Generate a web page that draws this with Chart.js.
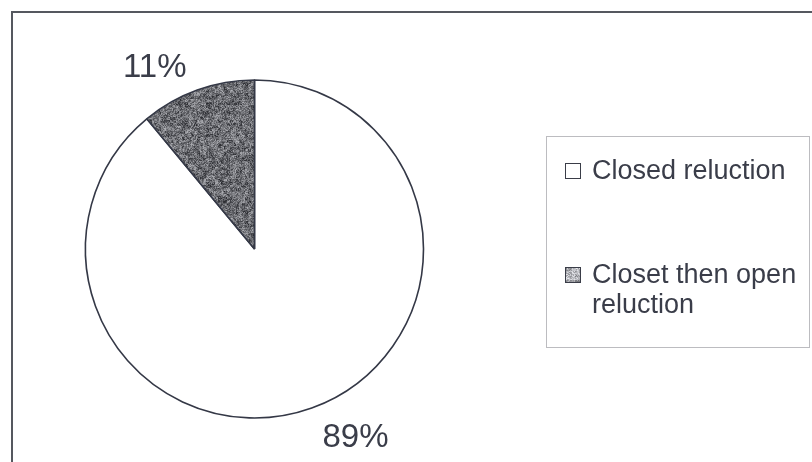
<!DOCTYPE html>
<html>
<head>
<meta charset="utf-8">
<script src="https://cdn.jsdelivr.net/npm/chart.js@4.4.1/dist/chart.umd.min.js"></script>
<style>
  html, body { margin: 0; padding: 0; background: #fff; }
  body { width: 812px; height: 462px; position: relative; overflow: hidden;
         font-family: "Liberation Sans", Arial, sans-serif; color: #3a3d49; }
  #frame { position: absolute; left: 11px; top: 11px; width: 900px; height: 600px;
           border-left: 2px solid #55585f; border-top: 2px solid #55585f; }
  #wrap { position: absolute; left: 0; top: 0; width: 812px; height: 462px; }
  #legend { position: absolute; left: 546px; top: 136px; width: 264px; height: 212px;
            box-sizing: border-box; border: 1px solid #bcbcc0; padding: 18px 0 0 18px; }
  #legend ul { list-style: none; margin: 0; padding: 0; }
  #legend li { position: relative; font-size: 27px; line-height: 30px; padding-left: 27px;
               width: 214px; }
  #legend li + li { margin-top: 74px; }
  #legend .box { position: absolute; left: 0; top: 8px; width: 16px; height: 16px;
                 box-sizing: border-box; border: 1.5px solid #3a3d48; }
</style>
</head>
<body>
<div id="frame"></div>
<div id="wrap"><canvas id="pie"></canvas></div>
<div id="legend"></div>
<script>
// Shares of the two closure groups (percent)
const categories = ["Closed reluction", "Closet then open reluction"];
const shares = [89, 11];
const percentLabels = ["89%", "11%"];

// Grainy grey texture used for the smaller slice
function hash(x, y) {
  const s = Math.sin(x * 12.9898 + y * 78.233) * 43758.5453;
  return s - Math.floor(s);
}
function makeTexture(size, base, spread) {
  const c = document.createElement("canvas");
  c.width = c.height = size;
  const g = c.getContext("2d");
  const img = g.createImageData(size, size);
  for (let y = 0; y < size; y++) {
    for (let x = 0; x < size; x++) {
      const fine = hash(x, y);
      const coarse = hash(Math.floor(x / 3) + 17, Math.floor(y / 3) + 5);
      const v = Math.max(0, Math.min(255, base + spread * (0.6 * fine + 0.4 * coarse)));
      const i = (y * size + x) * 4;
      img.data[i] = v - 4; img.data[i + 1] = v - 3; img.data[i + 2] = v + 2; img.data[i + 3] = 255;
    }
  }
  g.putImageData(img, 0, 0);
  return c;
}
const texture = makeTexture(128, 42, 140);
const ctx = document.getElementById("pie").getContext("2d");
const grain = ctx.createPattern(texture, "repeat");
const sliceColors = ["#ffffff", grain];

// Percent labels placed just outside each slice's outer edge
const outsideLabels = {
  id: "outsideLabels",
  afterDatasetsDraw(chart) {
    const meta = chart.getDatasetMeta(0);
    const c = chart.ctx;
    c.save();
    c.font = '33px "Liberation Sans", Arial, sans-serif';
    c.fillStyle = "#3a3d49";
    meta.data.forEach((arc, i) => {
      const p = arc.getProps(["x", "y", "startAngle", "endAngle", "outerRadius"], true);
      const mid = (p.startAngle + p.endAngle) / 2;
      const r = p.outerRadius + 14;
      const dx = Math.cos(mid), dy = Math.sin(mid);
      const ax = p.x + dx * r, ay = p.y + dy * r;
      c.textAlign = dx < 0 ? "right" : "left";
      c.textBaseline = dy < 0 ? "alphabetic" : "top";
      c.fillText(percentLabels[i], ax + (dx < 0 ? -6 : 6), ay);
    });
    c.restore();
  }
};

// Legend drawn as HTML from the chart's own legend items
const htmlLegend = {
  id: "htmlLegend",
  afterUpdate(chart) {
    const host = document.getElementById("legend");
    host.innerHTML = "";
    const ul = document.createElement("ul");
    const items = chart.options.plugins.legend.labels.generateLabels(chart);
    items.forEach((item, i) => {
      const li = document.createElement("li");
      const box = document.createElement("span");
      box.className = "box";
      if (i === 1) {
        const small = makeTexture(16, 110, 130);
        box.style.backgroundImage = "url(" + small.toDataURL() + ")";
      } else {
        box.style.background = "#ffffff";
      }
      li.appendChild(box);
      li.appendChild(document.createTextNode(item.text));
      ul.appendChild(li);
    });
    host.appendChild(ul);
  }
};

new Chart(ctx, {
  type: "pie",
  data: {
    labels: categories,
    datasets: [{
      data: shares,
      backgroundColor: sliceColors,
      borderColor: "#343846",
      borderWidth: 1.6,
      radius: 169
    }]
  },
  options: {
    responsive: true,
    maintainAspectRatio: false,
    animation: false,
    layout: { padding: { left: 84.5, right: 387.5, top: 79, bottom: 43 } },
    plugins: {
      legend: { display: false },
      tooltip: { enabled: false }
    }
  },
  plugins: [outsideLabels, htmlLegend]
});
</script>
</body>
</html>
